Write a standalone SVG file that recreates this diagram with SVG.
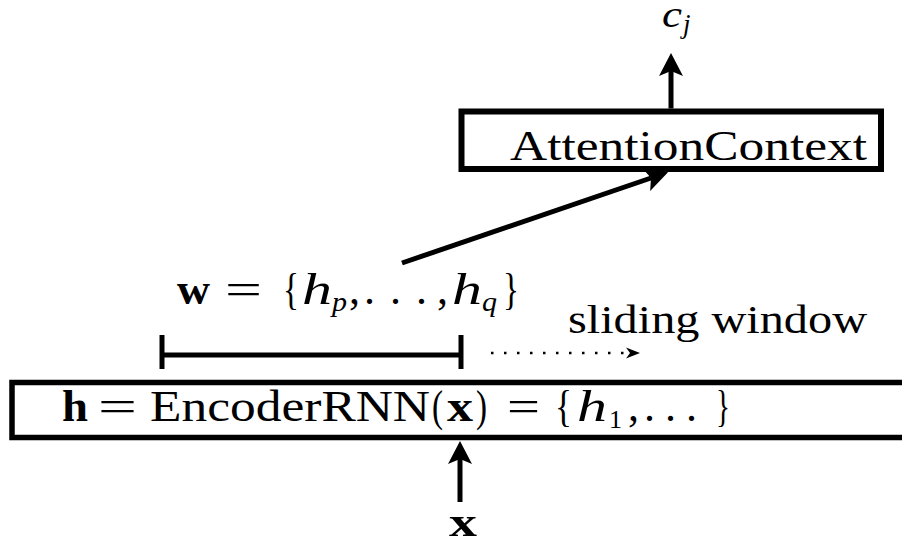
<svg xmlns="http://www.w3.org/2000/svg" width="902" height="546" viewBox="0 0 902 546">
  <style>
    .box { fill: #fff; stroke: #000; }
    .t { font-family: "Liberation Serif", "DejaVu Serif", serif; fill: #000; }
    .it { font-style: italic; }
    .bf { font-weight: bold; }
    .line { stroke: #000; fill: none; }
  </style>
  <defs>
    <marker id="arr" markerUnits="userSpaceOnUse" viewBox="-6 -13 25 26" refX="0" refY="0" markerWidth="25" markerHeight="26" orient="auto">
      <path d="M18,0 L-5,-12 L0,0 L-5,12 Z" fill="#000"/>
    </marker>
    <marker id="arrS" markerUnits="userSpaceOnUse" viewBox="-5 -6 16 12" refX="0" refY="0" markerWidth="16" markerHeight="12" orient="auto">
      <path d="M10,0 L-4,-5.5 L0,0 L-4,5.5 Z" fill="#000"/>
    </marker>
  </defs>

  <g id="encoder">
    <rect class="box" x="12" y="382.5" width="900" height="55" stroke-width="5.5"/>
    <text class="t" y="421" font-size="44"><tspan class="bf" x="62" textLength="26" lengthAdjust="spacingAndGlyphs">h</tspan><tspan x="98" textLength="39" lengthAdjust="spacingAndGlyphs">=</tspan><tspan x="150" textLength="280" lengthAdjust="spacingAndGlyphs">EncoderRNN</tspan><tspan x="432" textLength="11" lengthAdjust="spacingAndGlyphs">(</tspan><tspan class="bf" x="447" textLength="26" lengthAdjust="spacingAndGlyphs">x</tspan><tspan x="476" textLength="11" lengthAdjust="spacingAndGlyphs">)</tspan><tspan x="507" textLength="33" lengthAdjust="spacingAndGlyphs">=</tspan><tspan x="555" textLength="17" lengthAdjust="spacingAndGlyphs">{</tspan><tspan class="it" x="577" textLength="30" lengthAdjust="spacingAndGlyphs">h</tspan><tspan x="609" dy="7" font-size="26">1</tspan><tspan x="628" dy="-7">,</tspan><tspan x="644">.</tspan><tspan x="665">.</tspan><tspan x="686">.</tspan><tspan x="716" textLength="14" lengthAdjust="spacingAndGlyphs">}</tspan></text>
  </g>

  <g id="attention">
    <rect class="box" x="461.5" y="111.5" width="419.5" height="57.5" stroke-width="6"/>
    <text class="t" x="510" y="160" font-size="42" textLength="357" lengthAdjust="spacingAndGlyphs">AttentionContext</text>
  </g>

  <g id="output-label">
    <text class="t it" y="27" font-size="38"><tspan x="662" textLength="20" lengthAdjust="spacingAndGlyphs">c</tspan><tspan x="683" dy="6" font-size="27">j</tspan></text>
  </g>

  <g id="input-label">
    <text class="t bf" x="449" y="536" font-size="42" textLength="28" lengthAdjust="spacingAndGlyphs">x</text>
  </g>

  <g id="window">
    <line class="line" x1="162" y1="355" x2="461" y2="355" stroke-width="5"/>
    <line class="line" x1="162" y1="335" x2="162" y2="369" stroke-width="5"/>
    <line class="line" x1="461" y1="335" x2="461" y2="369" stroke-width="5"/>
    <text class="t" y="304" font-size="44"><tspan class="bf" x="177" textLength="33" lengthAdjust="spacingAndGlyphs">w</tspan><tspan x="225" textLength="37" lengthAdjust="spacingAndGlyphs">=</tspan><tspan x="283" textLength="16" lengthAdjust="spacingAndGlyphs">{</tspan><tspan class="it" x="302" textLength="30" lengthAdjust="spacingAndGlyphs">h</tspan><tspan class="it" x="332" dy="7" font-size="28" textLength="15" lengthAdjust="spacingAndGlyphs">p</tspan><tspan x="349" dy="-7">,</tspan><tspan x="364">.</tspan><tspan x="390">.</tspan><tspan x="416">.</tspan><tspan x="437">,</tspan><tspan class="it" x="452" textLength="30" lengthAdjust="spacingAndGlyphs">h</tspan><tspan class="it" x="482" dy="7" font-size="28" textLength="15" lengthAdjust="spacingAndGlyphs">q</tspan><tspan x="503" dy="-7" textLength="16" lengthAdjust="spacingAndGlyphs">}</tspan></text>
  </g>

  <g id="sliding-label">
    <text class="t" x="568" y="333" font-size="40" textLength="299" lengthAdjust="spacingAndGlyphs">sliding window</text>
  </g>

  <g id="connectors">
    <line class="line" x1="671" y1="108.5" x2="671" y2="71" stroke-width="5" marker-end="url(#arr)"/>
    <line class="line" x1="460" y1="502" x2="460" y2="459" stroke-width="5" marker-end="url(#arr)"/>
    <line class="line" x1="402" y1="263" x2="651" y2="178" stroke-width="5" marker-end="url(#arr)"/>
    <line class="line" x1="491" y1="353" x2="630" y2="353" stroke-width="2.5" stroke-dasharray="2.5 10.5" marker-end="url(#arrS)"/>
  </g>
</svg>
